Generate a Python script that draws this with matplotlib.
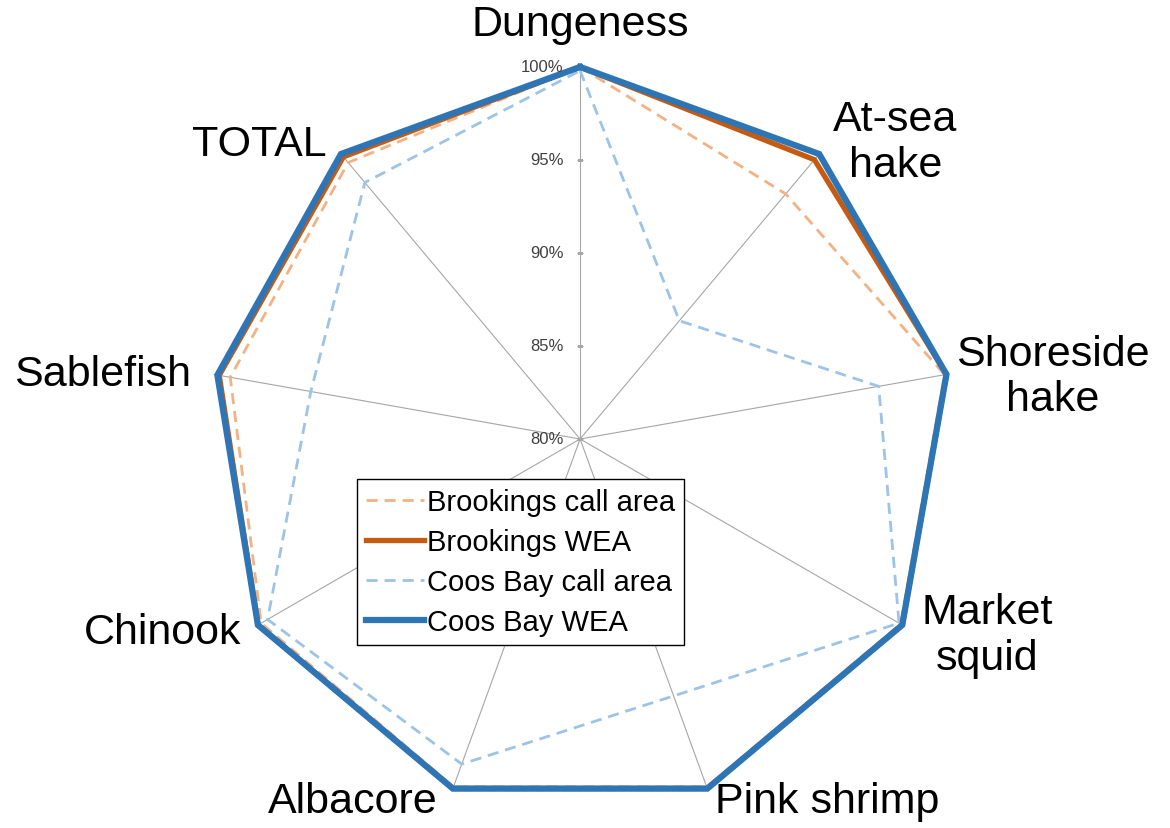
"""
Radar chart: share of fishery revenue kept for each call area / WEA.
"""
import numpy as np
import matplotlib
matplotlib.use('Agg')
from matplotlib import pyplot as plt

plt.rcParams['font.family'] = ['Liberation Sans', 'DejaVu Sans']

# Data
categories = ['Dungeness', 'At-sea\nhake', 'Shoreside\nhake', 'Market\nsquid',
              'Pink shrimp', 'Albacore', 'Chinook', 'Sablefish', 'TOTAL']
brookings_call = [100.0, 97.2, 99.9, 99.9, 99.9, 99.9, 99.8, 99.1, 99.4]
brookings_wea = [100.0, 99.6, 100.0, 100.0, 100.0, 100.0, 100.0, 99.7, 99.8]
coos_call = [99.8, 88.3, 96.3, 99.8, 94.7, 98.6, 99.4, 94.7, 98.0]
coos_wea = [100.0, 100.0, 100.0, 100.0, 100.0, 100.0, 100.0, 99.8, 100.0]
r_ticks = [80, 85, 90, 95, 100]
r_tick_labels = ['80%', '85%', '90%', '95%', '100%']

# Label offsets from each spoke end (pixels)
label_offsets = [(0, 43), (76, 12), (106, -2), (85, -10), (120, -12),
                 (-100, -12), (-95, -7), (-111, 0), (-82, 10)]

fig = plt.figure(figsize=(11.7, 8.29), dpi=100)
ax = fig.add_axes([0.1778, 0.0205, 0.636, 0.8975], projection='polar')
ax.set_theta_zero_location('N')
ax.set_theta_direction(-1)

n = len(categories)
angles = np.linspace(0, 2 * np.pi, n, endpoint=False)


def closed(values):
    return np.append(angles, angles[0]), np.append(values, values[0])


series = [
    ('Brookings call area', brookings_call, '#F4B183', 2.0, (0, (4, 2.5))),
    ('Brookings WEA', brookings_wea, '#C55A11', 3.8, '-'),
    ('Coos Bay call area', coos_call, '#9DC3E6', 2.0, (0, (4, 2.5))),
    ('Coos Bay WEA', coos_wea, '#2E75B6', 4.5, '-'),
]
for name, vals, color, lw, ls in series:
    th, rv = closed(vals)
    ax.plot(th, rv, color=color, lw=lw, linestyle=ls, label=name,
            solid_joinstyle='miter', clip_on=False, zorder=3)

ax.set_ylim(80, 100)
ax.set_xticks(angles)
ax.set_xticklabels([])
ax.set_yticks(r_ticks)
ax.set_yticklabels([])
ax.yaxis.grid(False)
ax.xaxis.grid(True, color='#A6A6A6', lw=0.8)
ax.spines['polar'].set_visible(False)
ax.set_facecolor('none')

# radial tick marks and labels on the vertical spoke
ax.plot([0] * len(r_ticks), r_ticks, marker='_', ls='none', color='#A6A6A6',
        ms=5, mew=1, zorder=2)
for v, lab in zip(r_ticks, r_tick_labels):
    ax.annotate(lab, xy=(0, v), xytext=(-12, 0), textcoords='offset points',
                ha='right', va='center', fontsize=12, color='#404040')

# category labels
for ang, lab, (dx, dy) in zip(angles, categories, label_offsets):
    ax.annotate(lab, xy=(ang, 100), xytext=(dx * 0.72, dy * 0.72),
                textcoords='offset points', ha='center', va='center',
                fontsize=31, color='black', linespacing=1.17,
                annotation_clip=False)

leg = ax.legend(loc='upper left', bbox_to_anchor=(0.305, 0.421),
                bbox_transform=fig.transFigure, borderaxespad=0,
                fontsize=21, frameon=True, fancybox=False, framealpha=1,
                edgecolor='black', handlelength=2.0, handletextpad=0.1,
                labelspacing=0.42, borderpad=0.3)
leg.get_frame().set_linewidth(1.0)

fig.savefig('out.png', dpi=100, facecolor='white')
